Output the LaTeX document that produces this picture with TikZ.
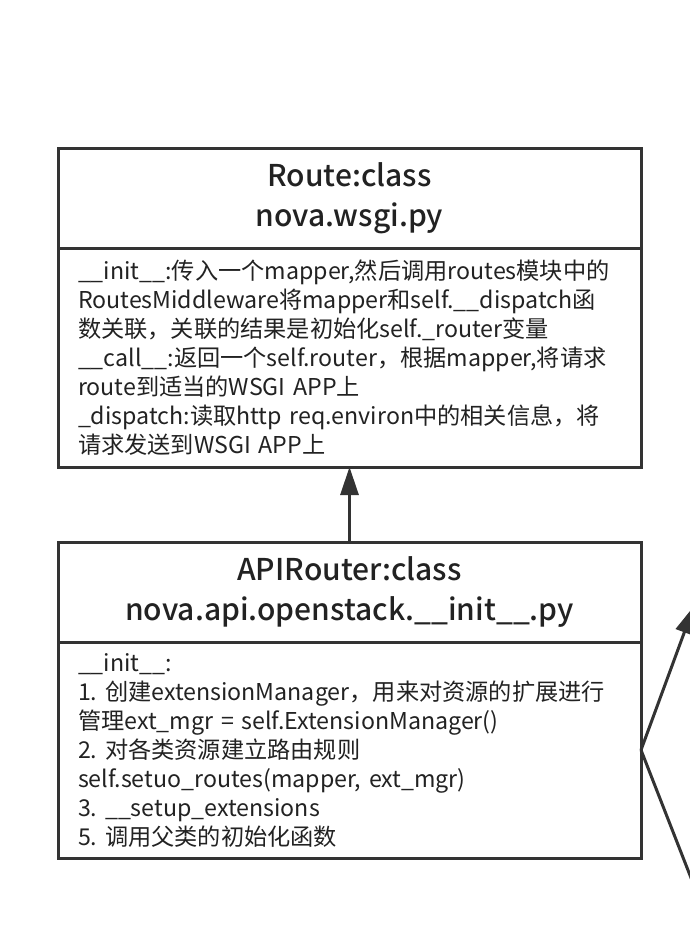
\documentclass[tikz,border=0pt]{standalone}
\usepackage{fontspec}
\setmainfont{Noto Sans CJK SC}
\newfontfamily\headfont{Noto Sans CJK SC Medium}
\usetikzlibrary{positioning,arrows.meta}
\frenchspacing

\definecolor{linegray}{HTML}{333333}
\definecolor{textgray}{HTML}{222222}

\tikzset{
  classhead/.style={draw=linegray, line width=3pt, outer sep=0pt, inner xsep=20pt,
    text width=543pt, minimum height=100pt, align=center, text=textgray,
    font=\fontsize{30}{40}\headfont},
  classbody/.style={draw=linegray, line width=3pt, outer sep=0pt, inner xsep=20pt,
    text width=543pt, align=left, text=textgray,
    font=\fontsize{23.2}{29}\selectfont},
  inherit/.style={draw=linegray, line width=3pt, -{Triangle[length=28pt,width=18pt]}}
}

\begin{document}
\begin{tikzpicture}[x=1pt,y=-1pt]
    \useasboundingbox[fill=white] (0,0) rectangle (690,934);

    \node[classhead, anchor=north west] (routehead) at (58,148) {Route:class\\nova.wsgi.py};
    \node[classbody, minimum height=219pt, below=0pt of routehead] (routebody) {%
      \_\_init\_\_:传入一个mapper,然后调用routes模块中的\\
      RoutesMiddleware将mapper和self.\_\_dispatch函\\
      数关联，关联的结果是初始化self.\_router变量\\
      \_\_call\_\_:返回一个self.router，根据mapper,将请求\\
      route到适当的WSGI APP上\\
      \_dispatch:读取http req.environ中的相关信息，将\\
      请求发送到WSGI APP上};

    \node[classhead, below=75pt of routebody] (apirouterhead) {APIRouter:class\\nova.api.openstack.\_\_init\_\_.py};
    \node[classbody, minimum height=216pt, below=0pt of apirouterhead] (apirouterbody) {%
      \_\_init\_\_:\\
      1. 创建extensionManager，用来对资源的扩展进行\\
      管理ext\_mgr = self.ExtensionManager()\\
      2. 对各类资源建立路由规则\\
      self.setuo\_routes(mapper, ext\_mgr)\\
      3. \_\_setup\_extensions\\
      5. 调用父类的初始化函数};

    \coordinate (upend) at (694,606);
    \coordinate (downend) at (702,906);

    \draw[inherit] (apirouterhead.north) -- (routebody.south);
    \draw[inherit] (apirouterbody.east) -- (upend);
    \draw[draw=linegray, line width=3pt] (apirouterbody.east) -- (downend);

\end{tikzpicture}
\end{document}
